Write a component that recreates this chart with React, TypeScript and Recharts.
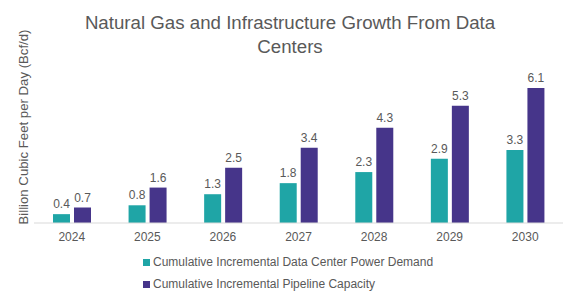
import React from 'react';
import {
  BarChart,
  Bar,
  XAxis,
  YAxis,
  LabelList,
  Legend,
} from 'recharts';

const years = ['2024', '2025', '2026', '2027', '2028', '2029', '2030'];
const powerDemand = [0.4, 0.8, 1.3, 1.8, 2.3, 2.9, 3.3];
const pipelineCapacity = [0.7, 1.6, 2.5, 3.4, 4.3, 5.3, 6.1];

const DEMAND_NAME = 'Cumulative Incremental Data Center Power Demand';
const PIPELINE_NAME = 'Cumulative Incremental Pipeline Capacity';

const TEAL = '#1fa5a6';
const PURPLE = '#46358a';
const TEXT = '#595959';
const FONT = '"Liberation Sans", Arial, sans-serif';

const data = years.map((year, i) => ({
  year,
  demand: powerDemand[i],
  pipeline: pipelineCapacity[i],
}));

// Stacked legend entries with small square markers
const renderLegend = (props: any) => {
  const { payload } = props;
  return (
    <div style={{ paddingLeft: 143, paddingTop: 3 }}>
      {payload.map((entry: any) => (
        <div
          key={entry.value}
          style={{
            display: 'flex',
            alignItems: 'center',
            height: 22,
            fontSize: 12,
            color: TEXT,
            fontFamily: FONT,
          }}
        >
          <span
            style={{
              width: 7,
              height: 7,
              background: entry.color,
              marginRight: 3,
              display: 'inline-block',
            }}
          />
          {entry.value}
        </div>
      ))}
    </div>
  );
};

const YLabel = () => (
  <text
    x={23}
    y={127}
    transform="rotate(-90 23 127)"
    textAnchor="middle"
    dominantBaseline="central"
    fill={TEXT}
    fontSize={13.2}
    fontFamily={FONT}
  >
    Billion Cubic Feet per Day (Bcf/d)
  </text>
);

const App: React.FC = () => {
  return (
    <div
      style={{
        position: 'fixed',
        left: 0,
        top: 0,
        width: 577,
        height: 301,
        background: '#fff',
        fontFamily: FONT,
      }}
    >
      <div
        style={{
          position: 'absolute',
          left: 70,
          width: 440,
          top: 11,
          textAlign: 'center',
          fontSize: 18.7,
          lineHeight: '24px',
          color: TEXT,
          fontFamily: FONT,
        }}
      >
        Natural Gas and Infrastructure Growth From Data Centers
      </div>
      <BarChart
        width={577}
        height={301}
        data={data}
        margin={{ top: 68, right: 14, bottom: 0, left: 0 }}
        barGap={4}
        barCategoryGap={19}
      >
        <XAxis
          dataKey="year"
          height={25}
          axisLine={{ stroke: '#d9d9d9' }}
          tickLine={false}
          tick={{ fill: TEXT, fontSize: 12, fontFamily: FONT }}
          tickMargin={3}
        />
        <YAxis
          width={34}
          domain={[0, 7]}
          axisLine={false}
          tickLine={false}
          tick={false}
          label={<YLabel />}
        />
        <Legend
          verticalAlign="bottom"
          align="left"
          height={53}
          content={renderLegend}
          wrapperStyle={{ paddingTop: 0 }}
        />
        <Bar dataKey="demand" name={DEMAND_NAME} fill={TEAL} isAnimationActive={false}>
          <LabelList
            dataKey="demand"
            position="top"
            offset={6}
            fill={TEXT}
            fontSize={12}
            fontFamily={FONT}
          />
        </Bar>
        <Bar dataKey="pipeline" name={PIPELINE_NAME} fill={PURPLE} isAnimationActive={false}>
          <LabelList
            dataKey="pipeline"
            position="top"
            offset={6}
            fill={TEXT}
            fontSize={12}
            fontFamily={FONT}
          />
        </Bar>
      </BarChart>
    </div>
  );
};

export default App;
